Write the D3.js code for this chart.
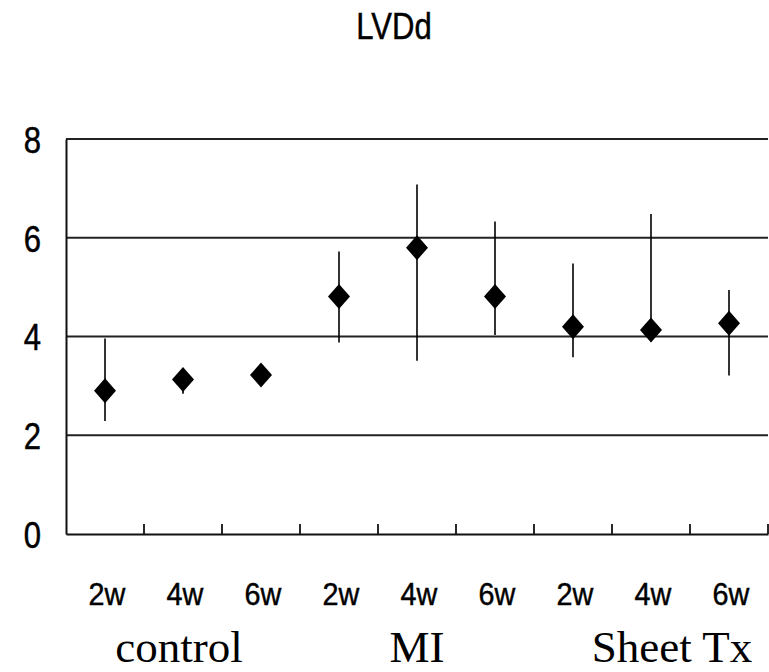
<!DOCTYPE html>
<html><head><meta charset="utf-8">
<script src="https://cdn.jsdelivr.net/npm/d3@7"></script>
<style>body{margin:0;background:#fff}</style>
</head><body>
<script>
const groups = ["control", "MI", "Sheet Tx"];
const weeks = ["2w", "4w", "6w"];
const categories = ["c2","c4","c6","m2","m4","m6","s2","s4","s6"];
const means = [2.90, 3.13, 3.22, 4.81, 5.80, 4.81, 4.20, 4.13, 4.27];
const upper = [3.96, 3.35, 3.35, 5.72, 7.08, 6.33, 5.48, 6.48, 4.94];
const lower = [2.29, 2.84, 3.10, 3.88, 3.51, 4.03, 3.58, 3.90, 3.21];
const yTicks = [0, 2, 4, 6, 8];
const title = "LVDd";

const W = 769, H = 672;
const m = {left: 66, right: 1, top: 139, bottom: 138};
const svg = d3.select("body").append("svg").attr("width", W).attr("height", H);
const x = d3.scaleBand().domain(categories).range([m.left, W - m.right]).padding(0);
const y = d3.scaleLinear().domain([0, 8]).range([H - m.bottom, m.top]);
const sans = "'Liberation Sans',Arial,sans-serif";

svg.append("text").attr("transform", "translate(394,39) scale(0.84,1)").attr("text-anchor", "middle")
  .style("font-family", sans).style("font-size", "37px")
  .attr("stroke", "#000").attr("stroke-width", 0.45).text(title);

// grid lines
svg.append("g").selectAll("line").data(yTicks.filter(d => d > 0)).join("line")
  .attr("x1", m.left).attr("x2", W - m.right)
  .attr("y1", d => y(d)).attr("y2", d => y(d))
  .attr("stroke", "#222").attr("stroke-width", 1.8);

// y axis
const ya = svg.append("g").attr("transform", `translate(${m.left},0)`)
  .call(d3.axisLeft(y).tickValues(yTicks).tickSize(0));
ya.select(".domain").attr("stroke", "#111").attr("stroke-width", 2);
ya.selectAll("text").attr("x", 0).attr("dy", "0.36em").attr("transform", "translate(-25,0) scale(0.84,1)")
  .style("font-family", sans).style("font-size", "37px").attr("fill", "#000")
  .attr("stroke", "#000").attr("stroke-width", 0.5);

// x axis
const xa = svg.append("g").attr("transform", `translate(0,${y(0)})`)
  .call(d3.axisBottom(x).tickSize(0).tickFormat((d, i) => weeks[i % 3]));
xa.select(".domain").attr("stroke", "#111").attr("stroke-width", 2);
xa.selectAll("text").attr("y", 0).attr("dy", 0).attr("transform", "translate(2,71) scale(0.9,1)")
  .style("font-family", sans).style("font-size", "32px").attr("fill", "#000")
  .attr("stroke", "#000").attr("stroke-width", 0.45);

// band boundary ticks (inward)
svg.append("g").selectAll("line").data(categories).join("line")
  .attr("x1", d => x(d) + x.bandwidth()).attr("x2", d => x(d) + x.bandwidth())
  .attr("y1", y(0)).attr("y2", y(0) - 10)
  .attr("stroke", "#111").attr("stroke-width", 1.8);

// group labels
const gOff = [-4, 0, 21];
svg.append("g").selectAll("text").data(groups).join("text")
  .attr("x", (d, i) => x(categories[i * 3 + 1]) + x.bandwidth() / 2 + gOff[i])
  .attr("y", 662).attr("text-anchor", "middle")
  .style("font-family", "'Liberation Serif','Times New Roman',serif").style("font-size", "45px")
  .text(d => d);

// error bars
const cx = i => x(categories[i]) + x.bandwidth() / 2;
svg.append("g").selectAll("line").data(means).join("line")
  .attr("x1", (d, i) => cx(i)).attr("x2", (d, i) => cx(i))
  .attr("y1", (d, i) => y(upper[i])).attr("y2", (d, i) => y(lower[i]))
  .attr("stroke", "#000").attr("stroke-width", 1.6);

// diamonds
svg.append("g").selectAll("path").data(means).join("path")
  .attr("d", "M0,-12.5L11,0L0,12.5L-11,0Z")
  .attr("transform", (d, i) => `translate(${cx(i)},${y(d)})`)
  .attr("fill", "#000");
</script>
</body></html>
